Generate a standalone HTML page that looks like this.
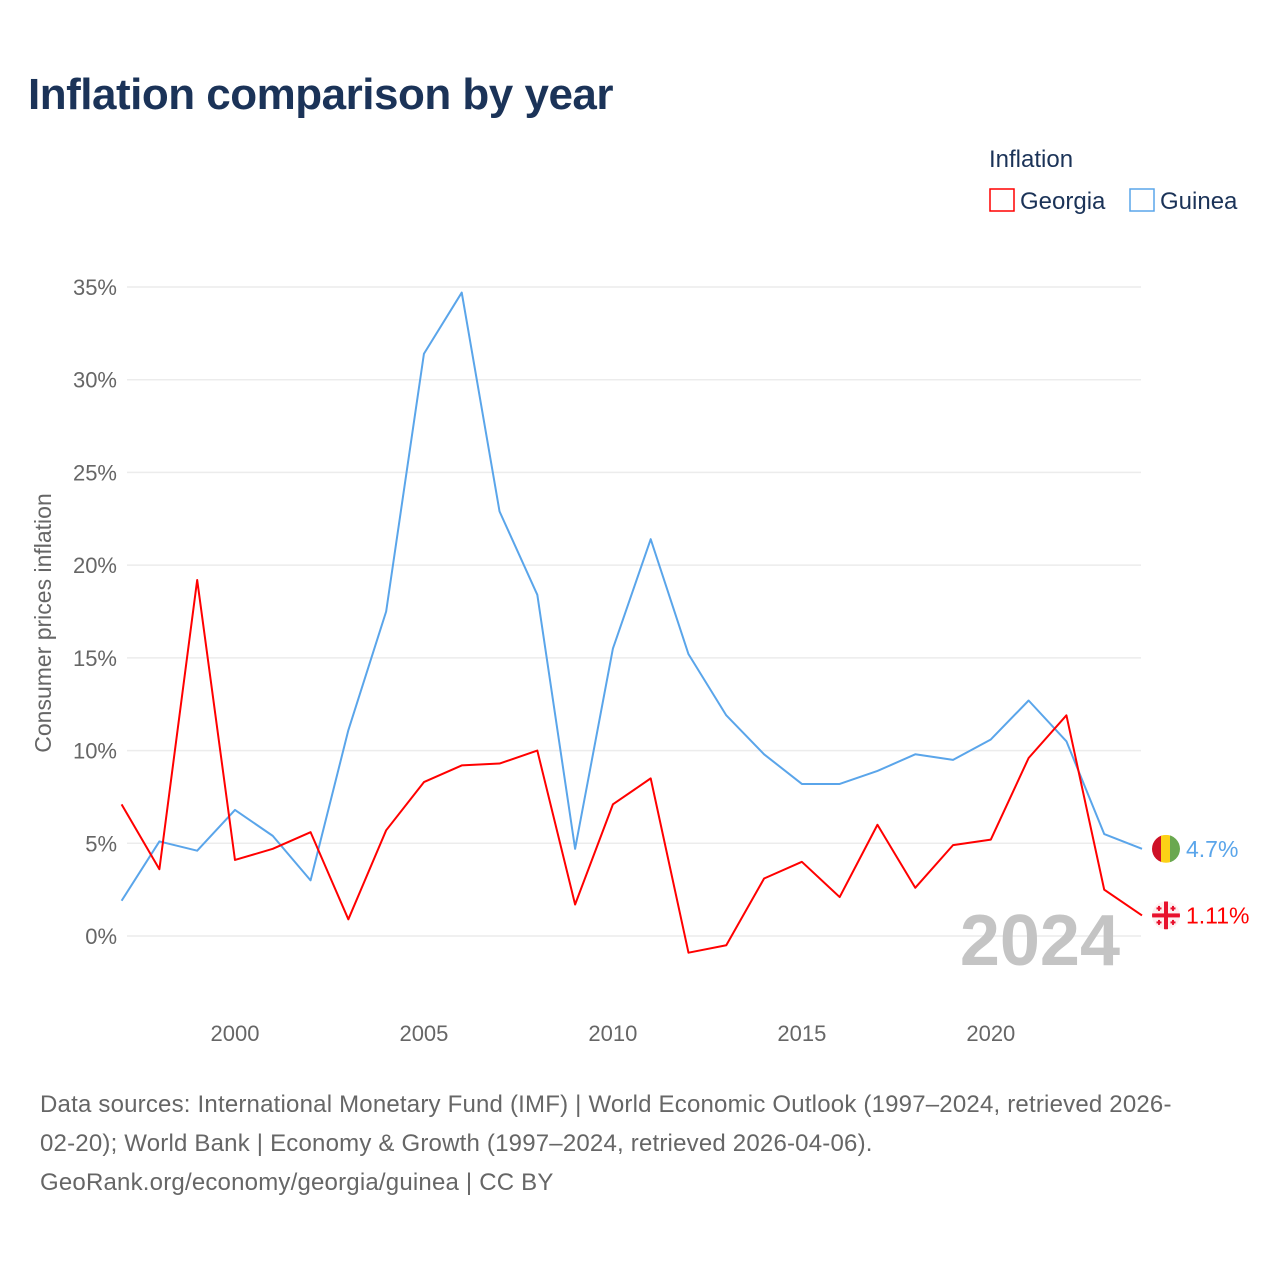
<!DOCTYPE html>
<html><head><meta charset="utf-8"><style>
body{margin:0;background:#fff;font-family:"Liberation Sans",sans-serif;}
#wrap{position:relative;width:1280px;height:1280px;overflow:hidden;}
h1{position:absolute;left:28px;top:70px;margin:0;font-size:44px;font-weight:bold;color:#1b3358;letter-spacing:-0.5px;}
.src{position:absolute;left:40px;top:1085px;font-size:24px;line-height:39px;color:#666;width:1230px;white-space:nowrap;letter-spacing:0.2px;}
</style></head><body>
<div id="wrap">
<h1>Inflation comparison by year</h1>
<svg id="chart" width="1280" height="1280" style="position:absolute;left:0;top:0"><defs><clipPath id="c1"><circle id="cc1" cx="1166" cy="848" r="14"/></clipPath><clipPath id="c2"><circle id="cc2" cx="1166" cy="915" r="14"/></clipPath></defs></svg>
<div class="src">Data sources: International Monetary Fund (IMF) | World Economic Outlook (1997–2024, retrieved 2026-<br>02-20); World Bank | Economy &amp; Growth (1997–2024, retrieved 2026-04-06).<br>GeoRank.org/economy/georgia/guinea | CC BY</div>
</div>
<script>
const years=[1997,1998,1999,2000,2001,2002,2003,2004,2005,2006,2007,2008,2009,2010,2011,2012,2013,2014,2015,2016,2017,2018,2019,2020,2021,2022,2023,2024];
const georgia=[7.1,3.6,19.2,4.1,4.7,5.6,0.9,5.7,8.3,9.2,9.3,10.0,1.7,7.1,8.5,-0.9,-0.5,3.1,4.0,2.1,6.0,2.6,4.9,5.2,9.6,11.9,2.5,1.11];
const guinea=[1.9,5.1,4.6,6.8,5.4,3.0,11.1,17.5,31.4,34.7,22.9,18.4,4.7,15.5,21.4,15.2,11.9,9.8,8.2,8.2,8.9,9.8,9.5,10.6,12.7,10.5,5.5,4.7];
const yTicks=[0,5,10,15,20,25,30,35];
const xTicks=[2000,2005,2010,2015,2020];
const NS="http://www.w3.org/2000/svg";
const svg=document.getElementById('chart');
const x=v=>121.6+(v-1997)*(1142-121.6)/27;
const y=v=>936-v*(936-287)/35;
function el(t,a,p){const e=document.createElementNS(NS,t);for(const k in a)e.setAttribute(k,a[k]);(p||svg).appendChild(e);return e;}
for(const t of yTicks){
  const g=el('line',{x1:127,x2:1141,y1:y(t),y2:y(t),stroke:'#ececec','stroke-width':1.5});
  
  
  const l=el('text',{x:117,y:y(t)+8,'text-anchor':'end','font-size':22,fill:'#666'});
  l.textContent=t+'%';
  
  
}
for(const t of xTicks){
  const l=el('text',{x:x(t),y:1041,'text-anchor':'middle','font-size':22,fill:'#666'});
  l.textContent=t;
  
  
}
const yt=el('text',{transform:'translate(51,623) rotate(-90)','text-anchor':'middle','font-size':23,fill:'#666'});
yt.textContent='Consumer prices inflation';


const yr=el('text',{x:1120,y:965,'text-anchor':'end','font-size':72,'font-weight':'bold',fill:'#c4c4c4'});
yr.textContent='2024';


function series(data,color,name){
  const p=el('polyline',{points:data.map((v,i)=>x(years[i])+','+y(v)).join(' '),fill:'none',stroke:color,'stroke-width':2,'stroke-linejoin':'round'});
  
  
}
series(guinea,'#5aa5ea','guinea');
series(georgia,'#ff0000','georgia');
const gy=y(guinea[guinea.length-1]);
document.getElementById('cc1').setAttribute('cy',gy);
const gg=el('g',{'clip-path':'url(#c1)'});


el('rect',{x:1152,y:gy-14,width:10,height:28,fill:'#ce1126'},gg);
el('rect',{x:1161,y:gy-14,width:10,height:28,fill:'#fcd116'},gg);
el('rect',{x:1170,y:gy-14,width:12,height:28,fill:'#6aa84f'},gg);
const gl=el('text',{x:1186,y:gy+8,'font-size':23,fill:'#5aa5ea'});
gl.textContent='4.7%';


const ry=y(georgia[georgia.length-1]);
document.getElementById('cc2').setAttribute('cy',ry);
const rg=el('g',{'clip-path':'url(#c2)'});


el('rect',{x:1152,y:ry-14,width:28,height:28,fill:'#fdf0f0'},rg);
el('rect',{x:1152,y:ry-2,width:28,height:4,fill:'#e8112d'},rg);
el('rect',{x:1164,y:ry-14,width:4,height:28,fill:'#e8112d'},rg);
for(const [dx,dy] of [[-7,-7],[7,-7],[-7,7],[7,7]]){el('rect',{x:1166+dx-2.5,y:ry+dy-1,width:5,height:2,fill:'#e8112d'},rg);el('rect',{x:1166+dx-1,y:ry+dy-2.5,width:2,height:5,fill:'#e8112d'},rg);}
const rl=el('text',{x:1186,y:ry+8,'font-size':23,fill:'#ff0000'});
rl.textContent='1.11%';


const lt=el('text',{x:989,y:167,'font-size':24,fill:'#1b3358'});
lt.textContent='Inflation';


const l1=el('g',{});


el('rect',{x:990,y:189,width:24,height:22,fill:'none',stroke:'#ff0000','stroke-width':1.5},l1);
el('text',{x:1020,y:209,'font-size':24,fill:'#1b3358'},l1).textContent='Georgia';
const l2=el('g',{});


el('rect',{x:1130,y:189,width:24,height:22,fill:'none',stroke:'#5aa5ea','stroke-width':1.5},l2);
el('text',{x:1160,y:209,'font-size':24,fill:'#1b3358'},l2).textContent='Guinea';
</script>
</body></html>
